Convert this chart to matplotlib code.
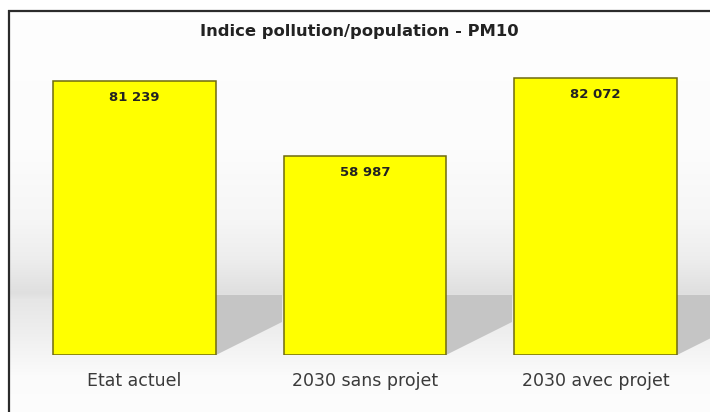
import numpy as np
import matplotlib
matplotlib.use("Agg")
import matplotlib.pyplot as plt
from matplotlib.patches import Polygon
from matplotlib.lines import Line2D

# --- data -------------------------------------------------------------
categories = ["Etat actuel", "2030 sans projet", "2030 avec projet"]
values = [81239, 58987, 82072]
title = "Indice pollution/population - PM10"

# --- figure -----------------------------------------------------------
W, H = 710, 412
DPI = 100
plt.rcParams["font.family"] = ["DejaVu Sans"]
fig = plt.figure(figsize=(W / DPI, H / DPI), dpi=DPI)
fig.patch.set_facecolor("white")


def px_rect(x0, y0, x1, y1):
    """Axes rectangle from pixel box (origin at top-left)."""
    return [x0 / W, 1 - y1 / H, (x1 - x0) / W, (y1 - y0) / H]


# background: white wall fading to grey, then a pale floor
bg = fig.add_axes(px_rect(9, 11, W, H))
rows = np.arange(11, H)
shade = np.interp(rows,
                  [11, 150, 220, 260, 293, 299, 330, 375, H],
                  [254, 252, 246, 237, 223, 230, 238, 251, 253])
grad = np.repeat((shade / 255.0)[:, None], 2, axis=1)
bg.imshow(np.dstack([grad, grad, grad]), extent=[0, 1, 0, 1],
          aspect="auto", interpolation="bilinear")
bg.set_axis_off()

# bar axes: baseline at y=355 px, 300 px tall
ax = fig.add_axes(px_rect(19.25, 55, 710.75, 355))
ax.patch.set_alpha(0)
px_per_val = 1 / 296.5
ymax = 300 / px_per_val
ax.set_xlim(-0.5, len(categories) - 0.5)
ax.set_ylim(0, ymax)
ax.set_axis_off()

x = np.arange(len(categories))
bars = ax.bar(x, values, width=0.707, color="#ffff00",
              edgecolor="#6e6a10", linewidth=1.1, zorder=3)

# floor shadows cast to the right of each bar
shadow_top = 60 / px_per_val
shadow_end = 33 / px_per_val
shadow_depth = 66 / 230.5
for b in bars:
    xr = b.get_x() + b.get_width()
    poly = Polygon([(xr, 0), (xr, shadow_top),
                    (xr + shadow_depth, shadow_top),
                    (xr + shadow_depth, shadow_end)],
                   closed=True, facecolor="#c5c5c5", edgecolor="none",
                   zorder=2)
    ax.add_patch(poly)

# value labels inside the top of each bar
for xi, v in zip(x, values):
    ax.annotate(f"{v:,}".replace(",", " "), (xi, v),
                xytext=(0, -14.5), textcoords="offset points",
                ha="center", va="baseline", fontsize=9.5, fontweight="bold",
                color="#222222", zorder=4)

# category labels under the bars
for xi, c in zip(x, categories):
    ax.annotate(c, (xi, 0), xytext=(0, -22), textcoords="offset points",
                ha="center", va="baseline", fontsize=12.5, color="#3a3a3a",
                annotation_clip=False)

fig.text(359 / W, 1 - 36 / H, title, ha="center", va="baseline",
         fontsize=11.8, fontweight="bold", color="#222222")

# chart frame (top and left edges)
frame_kw = dict(color="#2b2b2b", linewidth=1.6, transform=fig.transFigure,
                solid_capstyle="butt")
fig.add_artist(Line2D([8 / W, 1], [1 - 10.5 / H, 1 - 10.5 / H], **frame_kw))
fig.add_artist(Line2D([8.5 / W, 8.5 / W], [0, 1 - 10 / H], **frame_kw))

fig.savefig("out.png", dpi=DPI)
